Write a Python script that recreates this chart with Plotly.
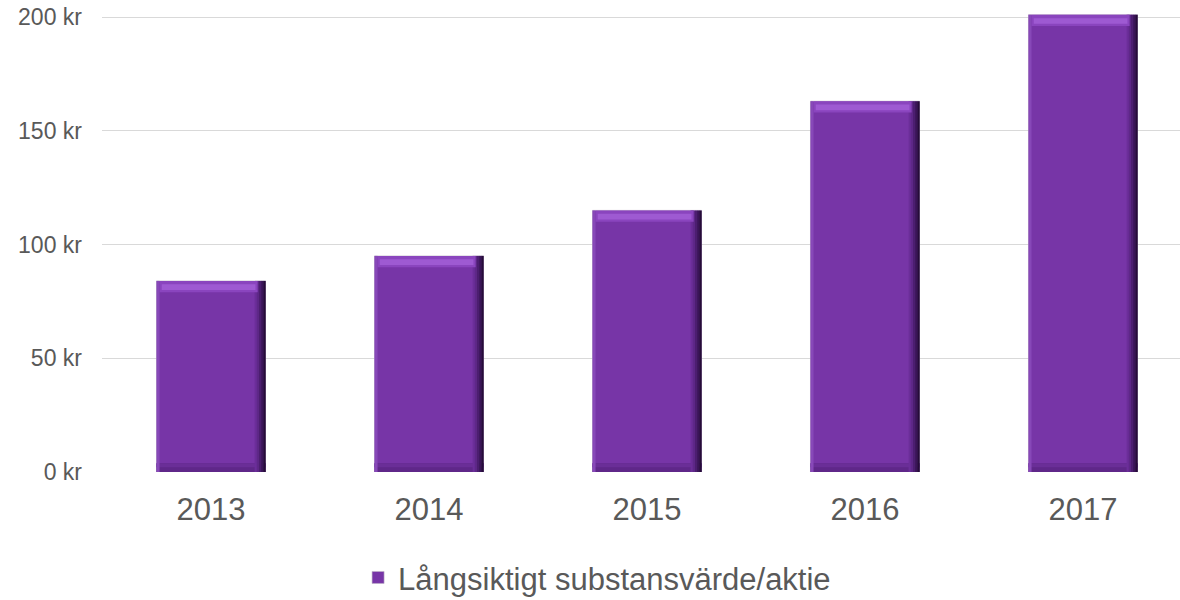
import plotly.graph_objects as go

years = ["2013", "2014", "2015", "2016", "2017"]
values = [84, 95, 115, 163, 201]
series_name = "Långsiktigt substansvärde/aktie"
y_ticks = [0, 50, 100, 150, 200]
y_tick_labels = ["0 kr", "50 kr", "100 kr", "150 kr", "200 kr"]

FONT = "Liberation Sans, Arial, sans-serif"
BW = 0.5
TOP = 5.0
BOT = 3.8

fig = go.Figure()

# main body
fig.add_trace(go.Bar(x=years, y=values, width=BW, name=series_name,
                     marker=dict(color="#7735A7", line=dict(width=0.6, color="#BDB6C4")),
                     showlegend=True, hoverinfo="x+y"))
# bottom darker band
fig.add_trace(go.Bar(x=years, y=[BOT] * len(values), base=[0] * len(values), width=BW,
                     marker=dict(color="#5F2789", line=dict(width=0)), showlegend=False, hoverinfo="skip"))
fig.add_trace(go.Bar(x=years, y=[BOT * 0.45] * len(values), base=[BOT * 0.55] * len(values), width=BW,
                     marker=dict(color="#6A2E97", line=dict(width=0)), showlegend=False, hoverinfo="skip"))
# left lighter strip
fig.add_trace(go.Bar(x=years, y=values, width=0.014, offset=-BW / 2, base=[0] * len(values),
                     marker=dict(color="#8748B8", line=dict(width=0)), showlegend=False, hoverinfo="skip"))
# right dark gradient strips
for off, col in [(0.05, "#6B2E99"), (0.04, "#5E2888"), (0.03, "#4C1E70"),
                 (0.02, "#3A1557"), (0.01, "#260C39")]:
    fig.add_trace(go.Bar(x=years, y=values, width=0.011, offset=BW / 2 - off, base=[0] * len(values),
                         marker=dict(color=col, line=dict(width=0)), showlegend=False, hoverinfo="skip"))
# top light band
fig.add_trace(go.Bar(x=years, y=[TOP] * len(values), base=[v - TOP for v in values], width=BW - 0.05,
                     offset=-BW / 2 + 0.014,
                     marker=dict(color="#8A45BE", line=dict(width=0)), showlegend=False, hoverinfo="skip"))
fig.add_trace(go.Bar(x=years, y=[TOP * 0.5] * len(values), base=[v - TOP * 0.8 for v in values],
                     width=BW - 0.07, offset=-BW / 2 + 0.024,
                     marker=dict(color="#9E5AD2", line=dict(width=0)), showlegend=False, hoverinfo="skip"))

fig.update_layout(
    barmode="overlay",
    width=1180, height=600,
    margin=dict(l=102, r=0, t=12, b=128),
    paper_bgcolor="white", plot_bgcolor="white",
    font=dict(family=FONT, color="#595959"),
    xaxis=dict(type="category", range=[-0.5, 4.445], showgrid=False, zeroline=False,
               showline=False, ticks="", ticklabelstandoff=16,
               tickfont=dict(size=31, color="#595959")),
    yaxis=dict(range=[0, 202.2], tickvals=y_ticks, ticktext=y_tick_labels,
               showgrid=True, gridcolor="#D9D9D9", gridwidth=1.3, zeroline=False,
               showline=False, ticks="", ticklabelstandoff=19,
               tickfont=dict(size=23, color="#595959")),
    legend=dict(orientation="h", xref="container", yref="container",
                x=0.506, xanchor="center", y=0.037, yanchor="middle",
                font=dict(size=31, color="#595959"), itemwidth=30),
    showlegend=True,
)

fig.write_html("out.html")
